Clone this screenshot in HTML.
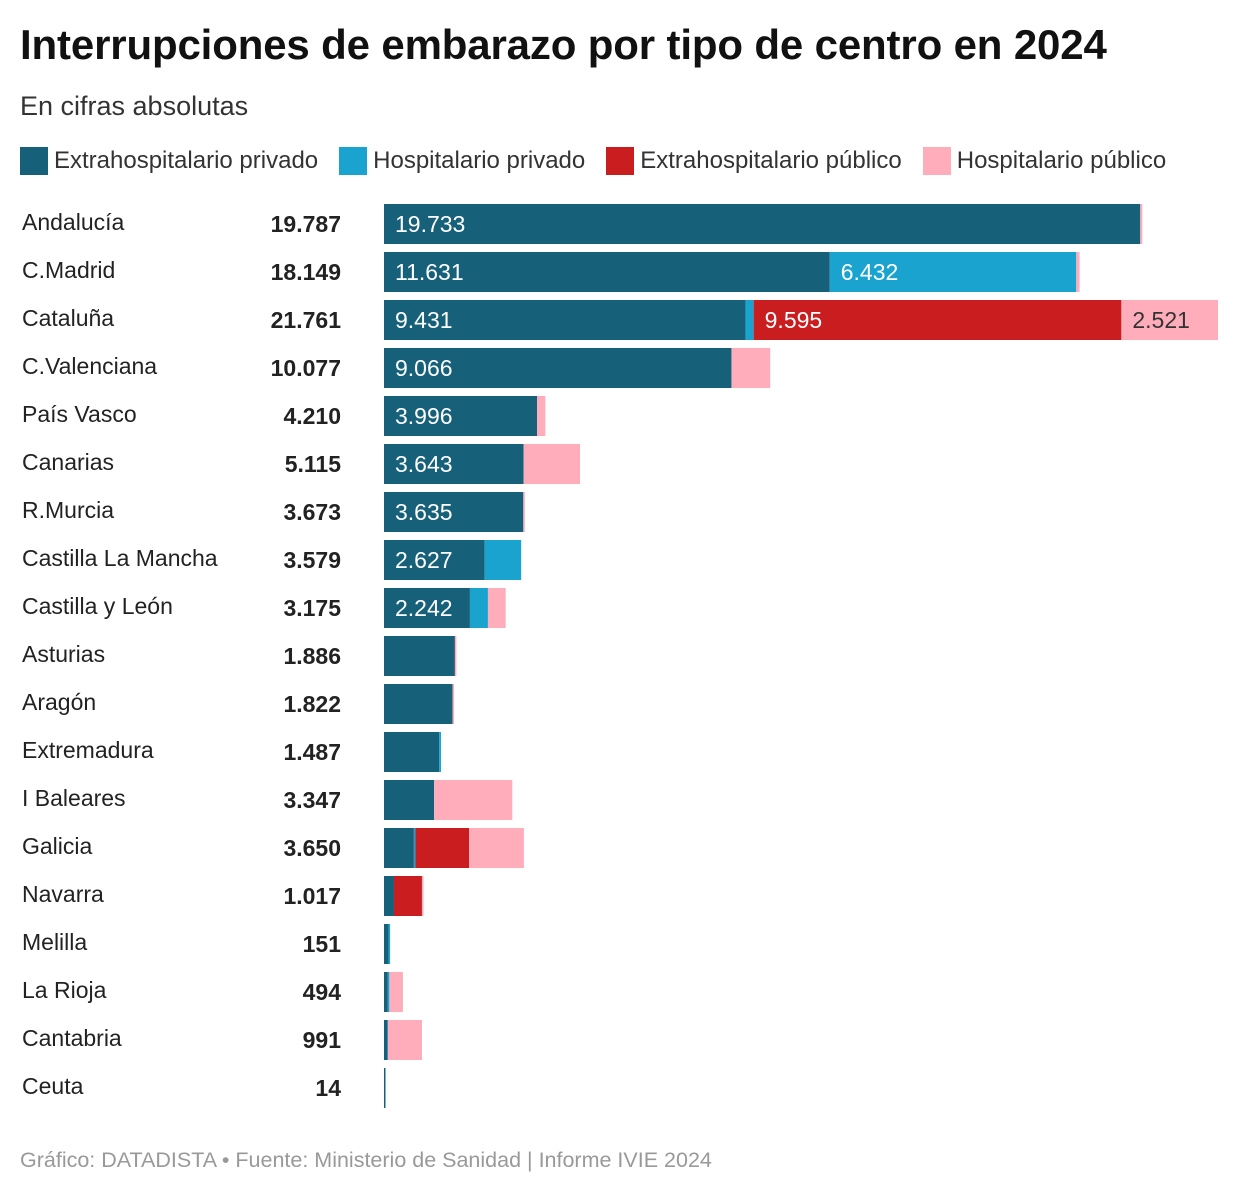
<!DOCTYPE html>
<html><head><meta charset="utf-8">
<style>
body{margin:0;background:#fff;font-family:"Liberation Sans",sans-serif;color:#1a1a1a;}
#wrap{position:relative;width:1240px;height:1194px;overflow:hidden;}
.title{position:absolute;left:20px;top:21px;font-size:42px;font-weight:bold;letter-spacing:-0.15px;color:#111;}
.sub{position:absolute;left:20px;top:91px;font-size:27px;color:#333;}
.legend{position:absolute;left:20px;top:147px;font-size:24px;color:#333;display:flex;}
.li{display:flex;align-items:center;margin-right:21px;}
.sw{width:28px;height:28px;margin-right:6px;}
.foot{position:absolute;left:20px;top:1148px;font-size:21.5px;color:#999;}
</style></head><body>
<div id="wrap">
<div class="title">Interrupciones de embarazo por tipo de centro en 2024</div>
<div class="sub">En cifras absolutas</div>
<div class="legend">
<div class="li"><div class="sw" style="background:#17607a"></div>Extrahospitalario privado</div>
<div class="li"><div class="sw" style="background:#1ba3d0"></div>Hospitalario privado</div>
<div class="li"><div class="sw" style="background:#c91d1f"></div>Extrahospitalario público</div>
<div class="li"><div class="sw" style="background:#ffadbb"></div>Hospitalario público</div>
</div>
<svg id="plot" width="1240" height="1194" style="position:absolute;left:0;top:0"></svg>
<div class="foot">Gráfico: DATADISTA • Fuente: Ministerio de Sanidad | Informe IVIE 2024</div>
</div>
<script>
const regions=["Andalucía","C.Madrid","Cataluña","C.Valenciana","País Vasco","Canarias","R.Murcia","Castilla La Mancha","Castilla y León","Asturias","Aragón","Extremadura","I Baleares","Galicia","Navarra","Melilla","La Rioja","Cantabria","Ceuta"];
const extraPrivado=[19733,11631,9431,9066,3996,3643,3635,2627,2242,1850,1790,1440,1305,780,260,120,100,90,14];
const hospPrivado=[0,6432,214,0,0,0,0,952,470,0,0,47,0,40,0,31,40,10,0];
const extraPublico=[0,0,9595,0,0,0,0,0,0,0,0,0,0,1400,730,0,0,0,0];
const hospPublico=[54,86,2521,1011,214,1472,38,0,463,36,32,0,2042,1430,27,0,354,891,0];
const series=[extraPrivado,hospPrivado,extraPublico,hospPublico];
const colors=["#17607a","#1ba3d0","#c91d1f","#ffadbb"];
const keys=["extrahospitalario-privado","hospitalario-privado","extrahospitalario-publico","hospitalario-publico"];
const x0=384,maxV=21761,wMax=834;
const xs=v=>v/maxV*wMax;
const yRow=i=>204+i*48;
const ns="http://www.w3.org/2000/svg";
const svg=document.getElementById('plot');
const fmt=v=>v.toLocaleString('de-DE');
regions.forEach((r,i)=>{
  const y=yRow(i);
  const t=document.createElementNS(ns,'text');
  t.setAttribute('x',22);t.setAttribute('y',y+26);t.setAttribute('font-size','23');t.setAttribute('fill','#222');
  t.textContent=r;
  
  
  svg.appendChild(t);
  let total=0;series.forEach(s=>total+=s[i]);
  const tt=document.createElementNS(ns,'text');
  tt.setAttribute('x',341);tt.setAttribute('y',y+28);tt.setAttribute('font-size','23');tt.setAttribute('font-weight','bold');tt.setAttribute('text-anchor','end');tt.setAttribute('fill','#222');
  tt.textContent=fmt(total);
  
  
  svg.appendChild(tt);
  let cx=x0;
  series.forEach((s,k)=>{
    const v=s[i]; if(!v) return;
    const w=xs(v);
    const rc=document.createElementNS(ns,'rect');
    rc.setAttribute('x',cx);rc.setAttribute('y',y);rc.setAttribute('width',Math.max(w,1.5));rc.setAttribute('height',40);rc.setAttribute('fill',colors[k]);
    
    
    svg.appendChild(rc);
    if(w>80){
      const lt=document.createElementNS(ns,'text');
      lt.setAttribute('x',cx+11);lt.setAttribute('y',y+28);lt.setAttribute('font-size','23');
      lt.setAttribute('fill',k==3?'#333':'#fff');
      lt.textContent=fmt(v);
      
      
      svg.appendChild(lt);
    }
    cx+=w;
  });
});
</script>
</body></html>
